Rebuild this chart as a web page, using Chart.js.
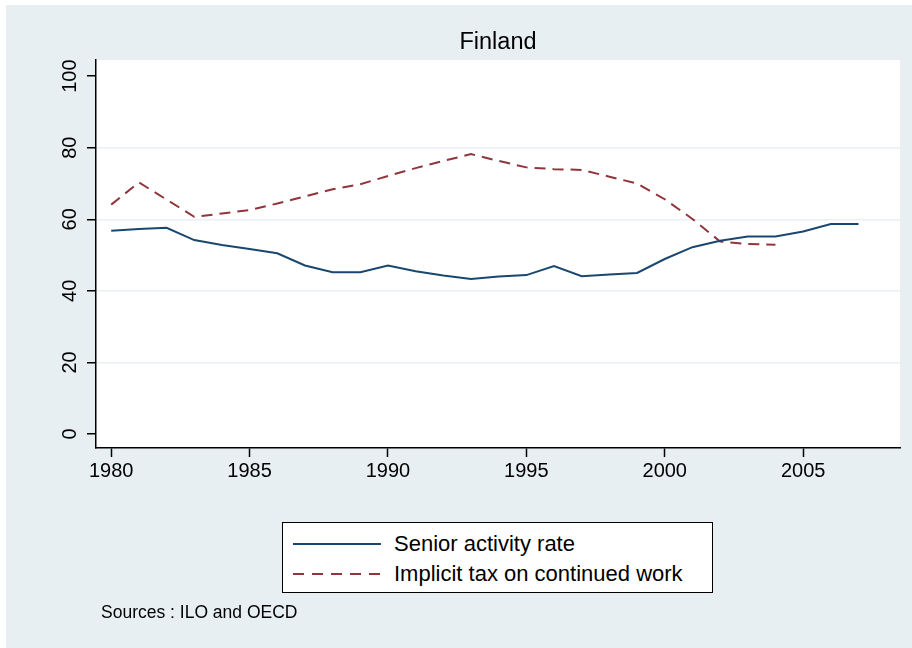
<!DOCTYPE html>
<html>
<head>
<meta charset="utf-8">
<script src="https://cdn.jsdelivr.net/npm/chart.js@4.4.0/dist/chart.umd.min.js"></script>
<style>
  body { margin: 0; background: #fff; font-family: "Liberation Sans", Arial, sans-serif; }
  #frame { position: absolute; left: 6px; top: 5px; width: 906px; height: 643px; background: #e8eff2; }
  #wrap { position: absolute; left: 0; top: 0; width: 912px; height: 648px; }
  #title { position: absolute; left: 0; width: 996px; top: 28px; text-align: center; font-size: 23.5px; color: #000; }
  #legend { position: absolute; left: 282px; top: 522px; width: 429px; height: 69px; background: #fff; border: 1.5px solid #000; }
  .row { position: absolute; left: 10px; height: 26px; font-size: 22px; color: #000; line-height: 26px; white-space: nowrap; }
  .row svg { position: absolute; left: 0; top: 8px; }
  .row span { position: absolute; left: 101px; top: 0; }
  #sources { position: absolute; left: 101px; top: 602px; font-size: 17.5px; color: #000; }
</style>
</head>
<body>
<div id="frame"></div>
<div id="wrap"><canvas id="chart" width="912" height="648"></canvas></div>
<div id="title">Finland</div>
<div id="legend">
  <div class="row" style="top: 8px;">
    <svg width="90" height="10"><line x1="0" y1="5" x2="88" y2="5" stroke="#1a476f" stroke-width="2"/></svg>
    <span>Senior activity rate</span>
  </div>
  <div class="row" style="top: 38px;">
    <svg width="90" height="10"><line x1="0" y1="5" x2="88" y2="5" stroke="#90353b" stroke-width="2" stroke-dasharray="11,8"/></svg>
    <span>Implicit tax on continued work</span>
  </div>
</div>
<div id="sources">Sources : ILO and OECD</div>
<script>
const years = [1980, 1981, 1982, 1983, 1984, 1985, 1986, 1987, 1988, 1989,
               1990, 1991, 1992, 1993, 1994, 1995, 1996, 1997, 1998, 1999,
               2000, 2001, 2002, 2003, 2004, 2005, 2006, 2007];
const seniorRate = [56.8, 57.3, 57.6, 54.2, 52.8, 51.7, 50.5, 47.1, 45.2, 45.2,
                    47.1, 45.5, 44.3, 43.3, 44.0, 44.4, 46.9, 44.1, 44.6, 45.0,
                    48.9, 52.2, 54.0, 55.2, 55.2, 56.6, 58.7, 58.7];
const implicitTax = [64.1, 70.3, 65.5, 60.7, 61.6, 62.6, 64.4, 66.4, 68.4, 69.8,
                     72.1, 74.3, 76.3, 78.2, 76.3, 74.5, 74.0, 73.8, 71.9, 70.0,
                     65.6, 60.1, 53.8, 53.1, 52.9, null, null, null];
const xTicks = [1980, 1985, 1990, 1995, 2000, 2005];
const yTicks = [0, 20, 40, 60, 80, 100];

function toPoints(vals) {
    return years.map(function(y, i) { return { x: y, y: vals[i] }; }).filter(function(p) { return p.y !== null; });
}

// white plot area + rotated y labels
const plotArea = {
    id: "plotArea",
    beforeDraw: function(chart) {
        const a = chart.chartArea;
        const c = chart.ctx;
        c.save();
        c.fillStyle = "#fff";
        c.fillRect(a.left, a.top, a.right - a.left, a.bottom - a.top);
        c.restore();
    },
    afterDraw: function(chart) {
        const c = chart.ctx;
        const ys = chart.scales.y;
        c.save();
        c.fillStyle = "#000";
        c.font = "20px 'Liberation Sans', Arial, sans-serif";
        c.textAlign = "center";
        c.textBaseline = "middle";
        yTicks.forEach(function(v) {
            c.save();
            c.translate(70, ys.getPixelForValue(v));
            c.rotate(-Math.PI / 2);
            c.fillText(String(v), 0, 0);
            c.restore();
        });
        c.restore();
    }
};

new Chart(document.getElementById("chart").getContext("2d"), {
    type: "line",
    data: {
        datasets: [{
            label: "Senior activity rate",
            data: toPoints(seniorRate),
            borderColor: "#1a476f",
            borderWidth: 2,
            pointRadius: 0,
            tension: 0,
            fill: false
        }, {
            label: "Implicit tax on continued work",
            data: toPoints(implicitTax),
            borderColor: "#90353b",
            borderWidth: 2,
            borderDash: [11, 7],
            pointRadius: 0,
            tension: 0,
            fill: false
        }]
    },
    options: {
        responsive: false,
        animation: false,
        layout: { padding: { top: 60, right: 12, bottom: 150, left: 0 } },
        plugins: {
            legend: { display: false },
            title: { display: false },
            tooltip: { enabled: false }
        },
        scales: {
            x: {
                type: "linear",
                min: 1979.45,
                max: 2008.5,
                afterBuildTicks: function(s) { s.ticks = xTicks.map(function(v) { return { value: v }; }); },
                afterFit: function(s) { s.height = 50; },
                grid: { display: true, drawOnChartArea: false, drawTicks: true, tickLength: 9, tickColor: "#000", tickWidth: 1.5 },
                border: { display: true, color: "#000", width: 1.5 },
                ticks: {
                    color: "#000",
                    font: { family: "'Liberation Sans', Arial, sans-serif", size: 20 },
                    padding: 2,
                    maxRotation: 0,
                    callback: function(v) { return String(v); }
                }
            },
            y: {
                min: -3.9,
                max: 104.5,
                afterBuildTicks: function(s) { s.ticks = yTicks.map(function(v) { return { value: v }; }); },
                afterFit: function(s) { s.width = 96; },
                grid: {
                    color: function(ctx) {
                        const v = ctx.tick ? ctx.tick.value : null;
                        return (v === 0 || v === 100) ? "rgba(0,0,0,0)" : "#eaf0f3";
                    },
                    lineWidth: 1.5,
                    drawTicks: true,
                    tickLength: 9,
                    tickColor: "#000",
                    tickWidth: 1.5
                },
                border: { display: true, color: "#000", width: 1.5 },
                ticks: {
                    color: "rgba(0,0,0,0)",
                    font: { size: 20 },
                    callback: function(v) { return String(v); }
                }
            }
        }
    },
    plugins: [plotArea]
});
</script>
</body>
</html>
